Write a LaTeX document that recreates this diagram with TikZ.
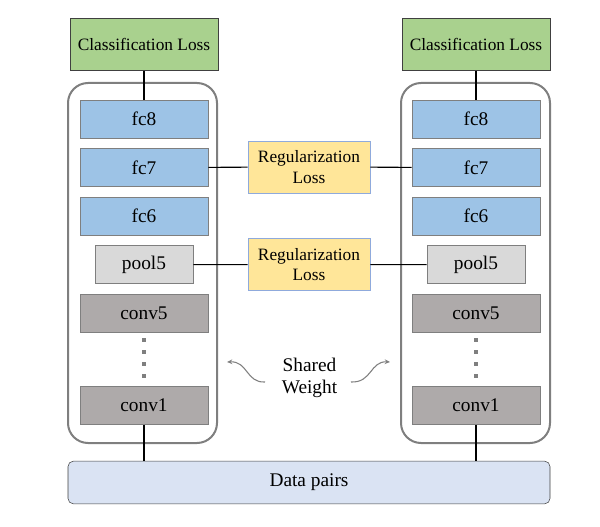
\documentclass[tikz,border=0pt]{standalone}
\usepackage{fontspec}
\setmainfont{Liberation Serif}
\usetikzlibrary{arrows.meta}
\usetikzlibrary{positioning}

\definecolor{lossgreen}{HTML}{A9D18E}
\definecolor{fcblue}{HTML}{9DC3E6}
\definecolor{poolgray}{HTML}{D9D9D9}
\definecolor{convgray}{HTML}{AEAAAA}
\definecolor{regyellow}{HTML}{FFE699}
\definecolor{regedge}{HTML}{8FAADC}
\definecolor{datablue}{HTML}{DAE3F3}
\definecolor{edgegray}{HTML}{7F7F7F}
\definecolor{darkedge}{HTML}{404040}

\begin{document}
\begin{tikzpicture}[
    x=0.75pt, y=-0.75pt,
    every node/.style={font=\fontsize{14.5pt}{16pt}\selectfont, align=center, inner sep=0pt},
    clsloss/.style={draw=darkedge, fill=lossgreen, rectangle, minimum width=111pt, minimum height=39pt, font=\fontsize{13pt}{15pt}\selectfont},
    fclayer/.style={draw=edgegray, fill=fcblue, rectangle, minimum width=96pt, minimum height=28.5pt},
    poollayer/.style={draw=edgegray, fill=poolgray, rectangle, minimum width=73.5pt, minimum height=28.5pt},
    convlayer/.style={draw=edgegray, fill=convgray, rectangle, minimum width=96pt, minimum height=28.5pt},
    regloss/.style={draw=regedge, fill=regyellow, rectangle, minimum width=91.5pt, minimum height=39pt, font=\fontsize{13pt}{15.5pt}\selectfont},
    network/.style={draw=edgegray, line width=1.5pt, rounded corners=15pt, rectangle, minimum width=111.75pt, minimum height=270pt},
    link/.style={draw=black, line width=0.8pt},
    layerdots/.style={draw=edgegray, line width=3pt, dash pattern=on 3pt off 6pt, shorten <=4.5pt, shorten >=6pt},
    shared/.style={draw=edgegray, line width=0.8pt, -{Stealth[length=4pt, width=3.5pt]}},
    node distance=7.5pt
]
    \useasboundingbox (0,0) rectangle (600,527);

    % Siamese containers
    \node (netl) [network] at (142.5,263) {};
    \node (netr) [network] at (475.5,263) {};

    % Left branch
    \node (clsl) [clsloss] at (144,44.5) {Classification Loss};
    \node (fc8l) [fclayer] at (144,119) {fc8};
    \node (fc7l) [fclayer, below=of fc8l] {fc7};
    \node (fc6l) [fclayer, below=of fc7l] {fc6};
    \node (pool5l) [poollayer, below=of fc6l] {pool5};
    \node (conv5l) [convlayer, below=of pool5l] {conv5};
    \node (conv1l) [convlayer, below=40.5pt of conv5l] {conv1};

    % Right branch
    \node (clsr) [clsloss] at (476,44.5) {Classification Loss};
    \node (fc8r) [fclayer] at (476,119) {fc8};
    \node (fc7r) [fclayer, below=of fc8r] {fc7};
    \node (fc6r) [fclayer, below=of fc7r] {fc6};
    \node (pool5r) [poollayer, below=of fc6r] {pool5};
    \node (conv5r) [convlayer, below=of pool5r] {conv5};
    \node (conv1r) [convlayer, below=40.5pt of conv5r] {conv1};

    % Regularization losses
    \node (reg1) [regloss] at (309,167) {Regularization\\Loss};
    \node (reg2) [regloss] at (309,264.5) {Regularization\\Loss};

    % Input
    \node (data) [draw=darkedge, fill=datablue, rounded corners=4pt, minimum width=361.5pt, minimum height=32pt] at (309,482.5) {Data pairs};

    % Shared weight label
    \node (sw) at (309.5,378) {Shared\\Weight};
    \coordinate (swl1) at (265,382);
    \coordinate (swl2) at (227,362);
    \coordinate (swr1) at (351,382);
    \coordinate (swr2) at (390,362);

    % Connections
    \draw[link] (clsl) -- (fc8l);
    \draw[link] (clsr) -- (fc8r);
    \draw[link] (fc7l) -- (reg1);
    \draw[link] (reg1) -- (fc7r);
    \draw[link] (pool5l) -- (reg2);
    \draw[link] (reg2) -- (pool5r);
    \draw[link] (conv1l.south) -- (conv1l.south |- data.north);
    \draw[link] (conv1r.south) -- (conv1r.south |- data.north);

    % Omitted conv layers
    \draw[layerdots] (conv5l.south) -- (conv1l.north);
    \draw[layerdots] (conv5r.south) -- (conv1r.north);

    % Shared weight arrows
    \draw[shared] (swl1) .. controls (246,383) and (248,361) .. (swl2);
    \draw[shared] (swr1) .. controls (372,383) and (370,361) .. (swr2);

\end{tikzpicture}
\end{document}
